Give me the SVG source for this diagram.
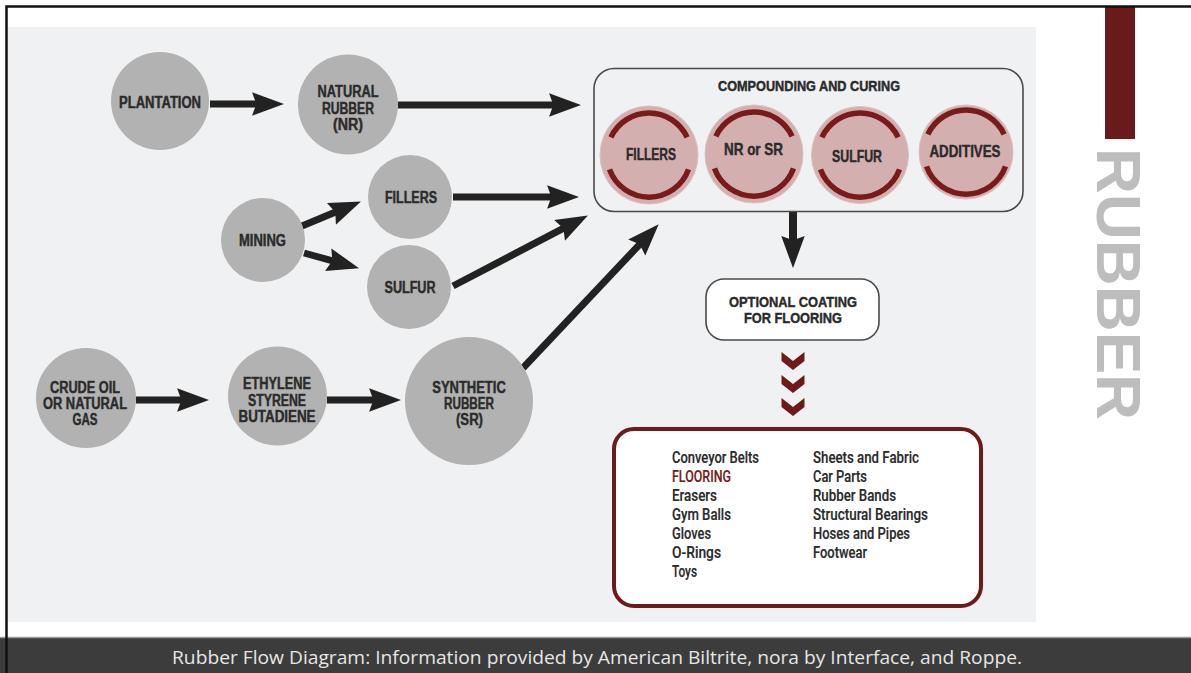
<svg xmlns="http://www.w3.org/2000/svg" width="1191" height="673" viewBox="0 0 1191 673">
<style>
.node{fill:#b2b2b2}
.lbl{font-family:"Liberation Sans",Arial,sans-serif;font-weight:bold;font-size:16px;fill:#2b2b2b;stroke:#2b2b2b;stroke-width:0.45;text-anchor:middle}
.prod{font-family:Roboto,"Liberation Sans",Arial,sans-serif;font-weight:500;font-size:17px;fill:#2b2b2b;stroke:#2b2b2b;stroke-width:0.2}
.conn{stroke:#222;stroke-width:7;fill:none;marker-end:url(#ah)}
.ring{fill:#d4afaf;stroke:#dcc0c0;stroke-width:1}
.arcs{fill:none;stroke:#7a1b1b;stroke-width:5.5}
</style>
<defs>
<marker id="ah" markerUnits="userSpaceOnUse" markerWidth="32" markerHeight="24" viewBox="0 0 30 22" refX="14" refY="11" orient="auto">
<path d="M0,0 L30,11 L0,22 L4,11 z" fill="#222"/>
</marker>
<path id="ringArcs" d="M-38.1,-17.7 A42,42 0 0 1 38.1,-17.7 M39.5,14.4 A42,42 0 0 1 -39.5,14.4"/>
<polygon id="chev" points="-11.5,0 0,9 11.5,0 11.5,9 0,18 -11.5,9" fill="#6e1a1a"/>
</defs>

<rect x="0" y="0" width="1191" height="673" fill="#ffffff"/>
<rect x="8" y="27" width="1028" height="595" fill="#f0f1f3"/>
<rect x="1105" y="6" width="30" height="133" fill="#6a1a1a"/>
<text transform="translate(1097,148) rotate(90)" font-family="'Liberation Sans',Arial,sans-serif" font-weight="bold" font-size="63" fill="#bdbdbd" textLength="272" lengthAdjust="spacingAndGlyphs">RUBBER</text>

<rect x="0" y="637" width="1191" height="36" fill="#3c3c3c"/>
<line x1="0" y1="637.5" x2="1191" y2="637.5" stroke="#9a9a9a" stroke-width="1.5"/>
<text x="597" y="664" font-family="'Open Sans','Liberation Sans',Arial,sans-serif" font-size="18.5" fill="#e6e6e6" text-anchor="middle" textLength="850" lengthAdjust="spacingAndGlyphs">Rubber Flow Diagram: Information provided by American Biltrite, nora by Interface, and Roppe.</text>
<rect x="6.5" y="6.5" width="1200" height="700" fill="none" stroke="#111" stroke-width="2.5"/>

<g id="connectors">
<line class="conn" x1="210" y1="104" x2="267" y2="104"/>
<line class="conn" x1="398" y1="105" x2="564" y2="105"/>
<line class="conn" x1="302" y1="226" x2="345.2" y2="208.1"/>
<line class="conn" x1="304" y1="253" x2="342.6" y2="263.7"/>
<line class="conn" x1="453" y1="197" x2="562" y2="197"/>
<line class="conn" x1="453" y1="286" x2="572.8" y2="223.4"/>
<line class="conn" x1="136" y1="400" x2="192" y2="400"/>
<line class="conn" x1="327" y1="400" x2="384" y2="400"/>
<line class="conn" x1="523" y1="368" x2="647" y2="236.6"/>
<line class="conn" x1="793" y1="212" x2="793" y2="251" style="stroke-width:8"/>
</g>

<g id="plantation">
<circle class="node" cx="160" cy="101" r="49"/>
<text class="lbl" x="160" y="108" textLength="82" lengthAdjust="spacingAndGlyphs">PLANTATION</text>
</g>
<g id="natural-rubber">
<circle class="node" cx="348" cy="104.5" r="50"/>
<text class="lbl" x="348" y="97" textLength="61" lengthAdjust="spacingAndGlyphs">NATURAL</text>
<text class="lbl" x="348" y="113.5" textLength="52" lengthAdjust="spacingAndGlyphs">RUBBER</text>
<text class="lbl" x="348" y="130" textLength="30" lengthAdjust="spacingAndGlyphs">(NR)</text>
</g>
<g id="mining">
<circle class="node" cx="263" cy="240" r="42"/>
<text class="lbl" x="262.5" y="246" textLength="47" lengthAdjust="spacingAndGlyphs">MINING</text>
</g>
<g id="fillers">
<circle class="node" cx="410" cy="197" r="42"/>
<text class="lbl" x="411" y="203" textLength="52" lengthAdjust="spacingAndGlyphs">FILLERS</text>
</g>
<g id="sulfur">
<circle class="node" cx="409" cy="287" r="42"/>
<text class="lbl" x="410" y="293" textLength="51" lengthAdjust="spacingAndGlyphs">SULFUR</text>
</g>
<g id="crude-oil">
<circle class="node" cx="86" cy="398" r="50"/>
<text class="lbl" x="85" y="393" textLength="70" lengthAdjust="spacingAndGlyphs">CRUDE OIL</text>
<text class="lbl" x="85" y="409" textLength="84" lengthAdjust="spacingAndGlyphs">OR NATURAL</text>
<text class="lbl" x="85" y="425" textLength="25" lengthAdjust="spacingAndGlyphs">GAS</text>
</g>
<g id="ethylene">
<circle class="node" cx="277.5" cy="396" r="49.5"/>
<text class="lbl" x="277" y="389" textLength="68" lengthAdjust="spacingAndGlyphs">ETHYLENE</text>
<text class="lbl" x="277" y="405.5" textLength="58" lengthAdjust="spacingAndGlyphs">STYRENE</text>
<text class="lbl" x="277" y="422" textLength="77" lengthAdjust="spacingAndGlyphs">BUTADIENE</text>
</g>
<g id="synthetic-rubber">
<circle class="node" cx="469" cy="401" r="64"/>
<text class="lbl" x="469" y="393" textLength="73.5" lengthAdjust="spacingAndGlyphs">SYNTHETIC</text>
<text class="lbl" x="469" y="409" textLength="50" lengthAdjust="spacingAndGlyphs">RUBBER</text>
<text class="lbl" x="469.5" y="425" textLength="27" lengthAdjust="spacingAndGlyphs">(SR)</text>
</g>

<g id="compounding">
<rect x="594" y="68.5" width="429" height="143" rx="20" fill="none" stroke="#4a4a4a" stroke-width="1.6"/>
<text class="lbl" x="809" y="91" style="font-size:14.5px" textLength="182" lengthAdjust="spacingAndGlyphs">COMPOUNDING AND CURING</text>
<g id="c-fillers">
<circle class="ring" cx="649" cy="155" r="49"/>
<use href="#ringArcs" class="arcs" transform="translate(649,155)"/>
<text class="lbl" x="651" y="160" style="font-size:16.5px" textLength="50" lengthAdjust="spacingAndGlyphs">FILLERS</text>
</g>
<g id="c-nr-sr">
<circle class="ring" cx="754" cy="154" r="49"/>
<use href="#ringArcs" class="arcs" transform="translate(754,154)"/>
<text class="lbl" x="753.5" y="155" style="font-size:16.5px" textLength="59" lengthAdjust="spacingAndGlyphs">NR or SR</text>
</g>
<g id="c-sulfur">
<circle class="ring" cx="860" cy="155" r="48.5"/>
<use href="#ringArcs" class="arcs" transform="translate(860,155)"/>
<text class="lbl" x="857" y="161.5" style="font-size:16.5px" textLength="50" lengthAdjust="spacingAndGlyphs">SULFUR</text>
</g>
<g id="c-additives">
<circle class="ring" cx="966" cy="152" r="47"/>
<use href="#ringArcs" class="arcs" transform="translate(966,152)"/>
<text class="lbl" x="965" y="156.5" style="font-size:16.5px" textLength="71" lengthAdjust="spacingAndGlyphs">ADDITIVES</text>
</g>
</g>

<g id="optional-coating">
<rect x="706" y="279" width="173" height="61" rx="18" fill="#ffffff" stroke="#4a4a4a" stroke-width="1.6"/>
<text class="lbl" x="793" y="306.5" style="font-size:15.5px" textLength="128" lengthAdjust="spacingAndGlyphs">OPTIONAL COATING</text>
<text class="lbl" x="793" y="322.5" style="font-size:15.5px" textLength="98" lengthAdjust="spacingAndGlyphs">FOR FLOORING</text>
</g>

<g id="chevrons">
<use href="#chev" transform="translate(793,352)"/>
<use href="#chev" transform="translate(793,375)"/>
<use href="#chev" transform="translate(793,398)"/>
</g>

<g id="products">
<rect x="614" y="429" width="367" height="177" rx="20" fill="#ffffff" stroke="#6e1a1a" stroke-width="4"/>
<text class="prod" x="672" y="463" textLength="87" lengthAdjust="spacingAndGlyphs">Conveyor Belts</text>
<text class="prod" x="672" y="482" textLength="59" lengthAdjust="spacingAndGlyphs" style="fill:#7a1b1b;stroke:#7a1b1b">FLOORING</text>
<text class="prod" x="672" y="501" textLength="45" lengthAdjust="spacingAndGlyphs">Erasers</text>
<text class="prod" x="672" y="520" textLength="59" lengthAdjust="spacingAndGlyphs">Gym Balls</text>
<text class="prod" x="672" y="539" textLength="39" lengthAdjust="spacingAndGlyphs">Gloves</text>
<text class="prod" x="672" y="558" textLength="49" lengthAdjust="spacingAndGlyphs">O-Rings</text>
<text class="prod" x="672" y="577" textLength="25" lengthAdjust="spacingAndGlyphs">Toys</text>
<text class="prod" x="813" y="463" textLength="106" lengthAdjust="spacingAndGlyphs">Sheets and Fabric</text>
<text class="prod" x="813" y="482" textLength="54" lengthAdjust="spacingAndGlyphs">Car Parts</text>
<text class="prod" x="813" y="501" textLength="83" lengthAdjust="spacingAndGlyphs">Rubber Bands</text>
<text class="prod" x="813" y="520" textLength="115" lengthAdjust="spacingAndGlyphs">Structural Bearings</text>
<text class="prod" x="813" y="539" textLength="97" lengthAdjust="spacingAndGlyphs">Hoses and Pipes</text>
<text class="prod" x="813" y="558" textLength="54" lengthAdjust="spacingAndGlyphs">Footwear</text>
</g>
</svg>
